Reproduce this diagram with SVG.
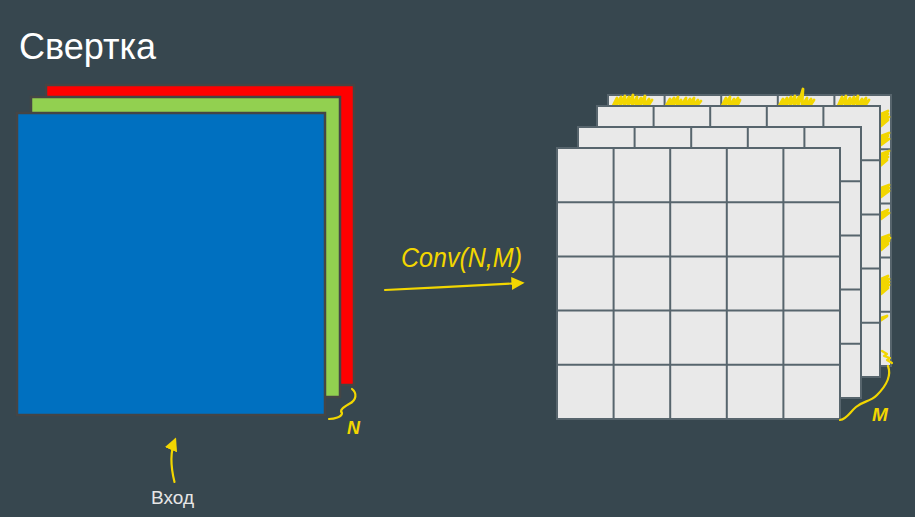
<svg xmlns="http://www.w3.org/2000/svg" xmlns:xlink="http://www.w3.org/1999/xlink" width="915" height="517" viewBox="0 0 915 517">
<style>
.title{font-family:"Liberation Sans",Arial,sans-serif;font-size:36px;fill:#ffffff}
.label{font-family:"Liberation Sans",Arial,sans-serif;font-size:19px;fill:#e6e6e6}
.hand{font-family:"Liberation Sans",Arial,sans-serif;font-style:italic;fill:#f2d600}
.ink{fill:none;stroke:#f2d600;stroke-width:2.2;stroke-linecap:round;stroke-linejoin:round}
.scrib{fill:none;stroke:#f2d600;stroke-width:2.8;stroke-linecap:round;stroke-linejoin:round}
.chan{stroke:#454545;stroke-width:2.5}
.cell{fill:#e9e9e9;stroke:#57656d;stroke-width:2}
.gl{fill:none;stroke:#57656d;stroke-width:2}
</style>
<defs>
<g id="layer">
<rect class="cell" x="0" y="0" width="283" height="271"/>
<path class="gl" d="M56.6,0V271M113.2,0V271M169.8,0V271M226.4,0V271M0,54.2H283M0,108.4H283M0,162.6H283M0,216.8H283"/>
</g>
<marker id="ah" viewBox="0 0 10 10" refX="8" refY="5" markerWidth="6" markerHeight="6" orient="auto" markerUnits="strokeWidth">
<path d="M0,0L10,5L0,10Z" fill="#f2d600"/>
</marker>
</defs>
<rect width="915" height="517" fill="#37474f"/>
<text class="title" x="19" y="59">Свертка</text>
<g id="input">
<rect class="chan" x="46" y="85" width="308" height="300" fill="#ff0000"/>
<rect class="chan" x="31" y="97" width="309" height="300" fill="#92d050"/>
<rect class="chan" x="17" y="113" width="308" height="302" fill="#0070c0"/>
</g>
<g id="output">
<use xlink:href="#layer" x="608" y="95"/>
<g id="hatching">
<path class="scrib" d="M613,106l4,-8l-1,8l5,-9l-1,9l5,-10l-1,10l5,-9l-1,9l5,-11l-1,11l5,-9l-1,9l5,-8l-1,8l5,-10l-1,10l5,-7l-1,7l4,-6"/>
<path class="scrib" d="M666,106l4,-7l-1,7l5,-8l-1,8l5,-9l-1,9l4,-6l0,6l5,-8l-1,8l5,-7l-1,7l5,-8l-1,8l5,-6l-1,6l4,-5"/>
<path class="scrib" d="M722,106l4,-8l-1,8l5,-9l-1,9l5,-7l-1,7l5,-8l-1,8l3,-6"/>
<path class="scrib" d="M779,106l4,-7l-1,7l5,-8l-1,8l5,-9l-1,9l5,-10l-1,10l5,-9l-1,9l5,-17l-1,17l5,-8l-1,8l5,-7l-1,7l4,-6"/>
<path class="scrib" d="M838,106l4,-9l-1,9l5,-10l-1,10l5,-8l-1,8l5,-9l-1,9l5,-10l-1,10l5,-7l-1,7l5,-8l-1,8l4,-6"/>
<path class="scrib" d="M881,114l7,-3l-7,6l7,-3l-7,6l8,-3l-8,6l7,-3l-7,6M881,136l8,-3l-8,6l7,-3l-7,6l8,-3l-8,6M881,154l8,-3l-8,6l7,-3l-8,6l8,-3l-8,6l7,-3l-7,6M881,188l8,-3l-8,6l8,-3l-8,6l8,-3l-8,6M881,213l7,-3l-7,6l8,-3l-8,6M881,238l8,-3l-8,6l9,-3l-9,6l8,-3l-8,6l7,-3l-7,6M881,279l7,-3l-7,6l8,-3l-8,6l8,-3l-8,6l8,-3l-8,6l7,-3l-7,6M881,318l6,-2l-6,4"/>
</g>
<use xlink:href="#layer" x="597" y="106"/>
<use xlink:href="#layer" x="578" y="127"/>
<use xlink:href="#layer" x="557" y="148"/>
</g>
<g id="connectors">
<path class="ink" d="M385,290C430,288 480,285 522,283" marker-end="url(#ah)" stroke-width="2"/>
<path class="ink" d="M174.5,482C171,468 170,452 175,440" marker-end="url(#ah)" stroke-width="3"/>
<path class="ink" d="M352,389C357,393 357,400 349,404C344,407 339,410 342,413C342,417 334,419 329,419"/>
<path class="ink" d="M882,351l5,3l-3,2l6,2l-3,2l5,3M888,366C891,374 888,384 877,395C870,402 863,401 856,407C850,412 847,419 840,420"/>
</g>
<g id="labels">
<text class="hand" x="401" y="267" font-size="27" textLength="121" lengthAdjust="spacingAndGlyphs">Conv(N,M)</text>
<text class="hand" x="347" y="434" font-size="18" font-weight="bold">N</text>
<text class="hand" x="872" y="421" font-size="19" font-weight="bold">M</text>
<text class="label" x="151" y="504">Вход</text>
</g>
</svg>
